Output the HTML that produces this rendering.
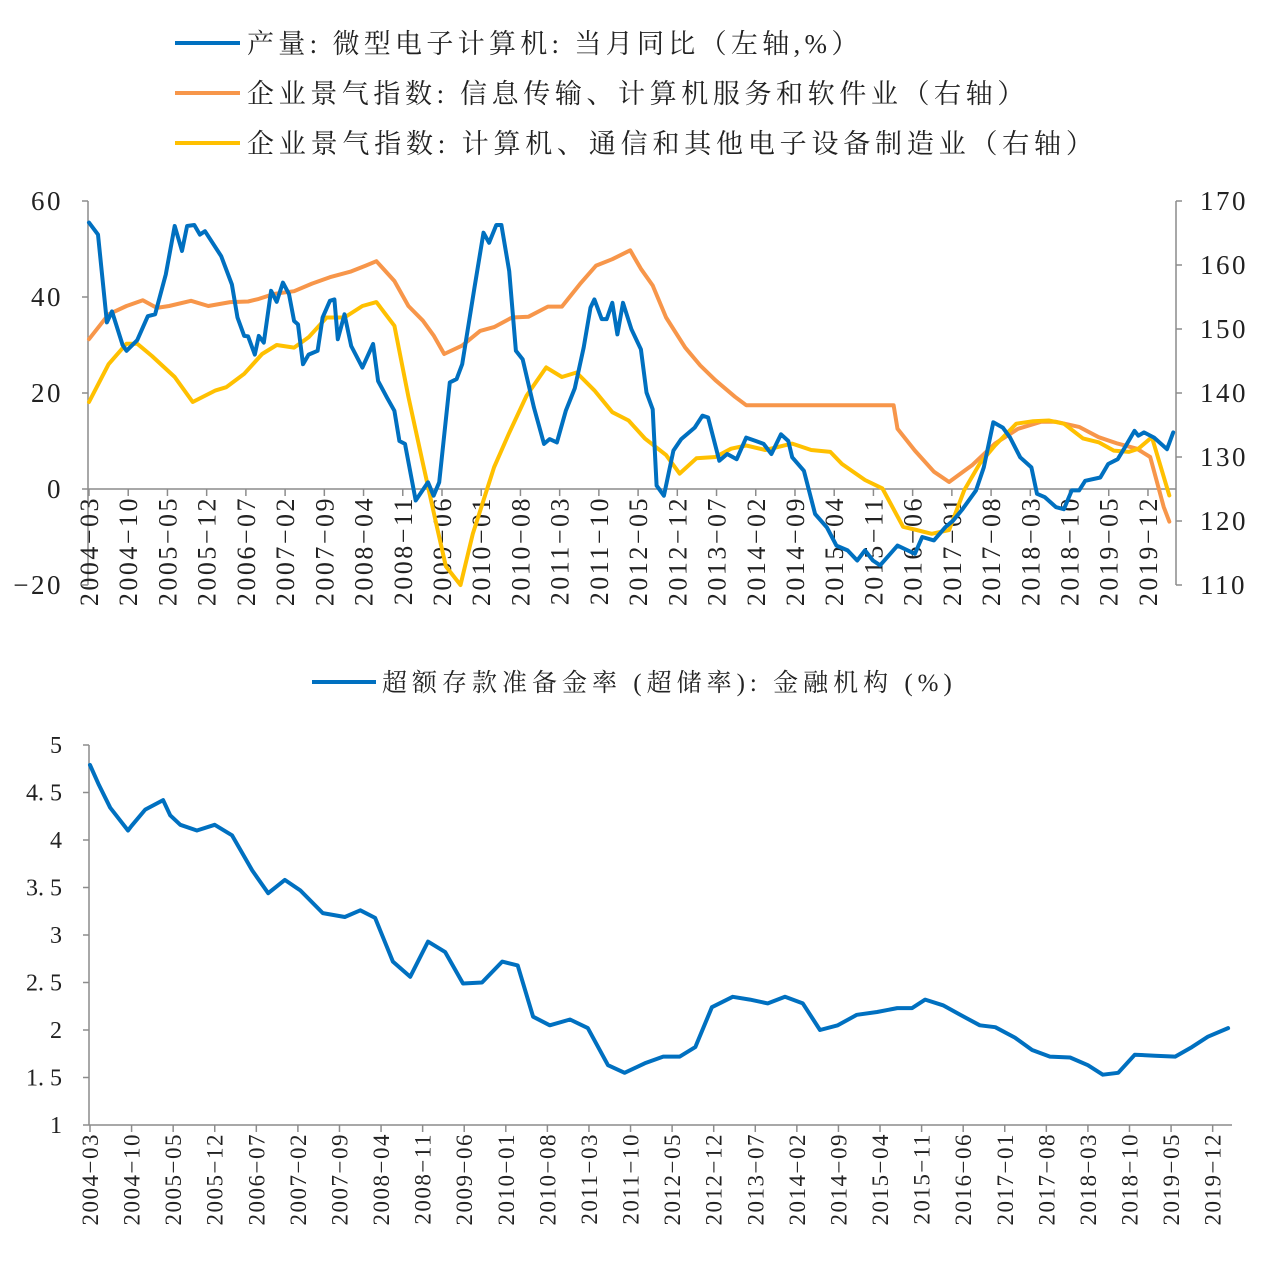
<!DOCTYPE html>
<html><head><meta charset="utf-8">
<style>
html,body{margin:0;padding:0;background:#fff;}
svg text{font-family:"Liberation Serif","Noto Serif CJK SC",serif;fill:#222;}
</style></head>
<body>
<svg id="chart" width="1263" height="1272" viewBox="0 0 1263 1272" xmlns="http://www.w3.org/2000/svg">
  <g>
    <line x1="175" y1="43" x2="240" y2="43" stroke="#0070C0" stroke-width="4"/>
    <text x="247" y="53" font-size="27" letter-spacing="4.3">产量: 微型电子计算机: 当月同比（左轴,%）</text>
    <line x1="175" y1="93" x2="240" y2="93" stroke="#F7964A" stroke-width="4"/>
    <text x="247" y="103" font-size="27" letter-spacing="4.6">企业景气指数: 信息传输、计算机服务和软件业（右轴）</text>
    <line x1="175" y1="143" x2="240" y2="143" stroke="#FFC000" stroke-width="4"/>
    <text x="247" y="153" font-size="27" letter-spacing="4.8">企业景气指数: 计算机、通信和其他电子设备制造业（右轴）</text>
  </g>
  <g id="topchart"></g>
  <g>
    <line x1="312" y1="682" x2="376" y2="682" stroke="#0070C0" stroke-width="4"/>
    <text x="382" y="691" font-size="25" letter-spacing="5">超额存款准备金率 (超储率): 金融机构 (%)</text>
  </g>
  <g id="bottomchart"></g>
</svg>
<script>
// ---- data (month index from 2004-03) ----
const xTickLabels = ["2004-03","2004-10","2005-05","2005-12","2006-07","2007-02","2007-09","2008-04","2008-11","2009-06","2010-01","2010-08","2011-03","2011-10","2012-05","2012-12","2013-07","2014-02","2014-09","2015-04","2015-11","2016-06","2017-01","2017-08","2018-03","2018-10","2019-05","2019-12"];
const leftTicks = [60,40,20,0,-20];
const rightTicks = [170,160,150,140,130,120,110];
const bottomTicks = ["5","4.5","4","3.5","3","2.5","2","1.5","1"];
const bottomTickValues = [5,4.5,4,3.5,3,2.5,2,1.5,1];

const prodMonths = [0,1.6,3.2,4.1,6,6.7,8.6,10.5,11.8,13.7,15.3,16.6,17.5,18.8,19.8,20.7,23.6,25.5,26.5,27.7,28.4,29.6,30.3,31.2,32.5,33.5,34.6,35.7,36.6,37.3,38.2,39.2,40.8,41.7,43,43.8,44.4,45.6,46.8,48.8,50.7,51.6,53.2,54.5,55.4,56.4,58.3,60.5,61.5,62.5,64.4,65.6,66.6,68.8,70.4,71.4,72.7,73.6,75,76.2,77.4,79.4,81.2,82.2,83.5,85.1,86.7,88.3,89.5,90.2,91.5,92.4,93.4,94.3,95.3,96.8,98.5,99.5,100.6,101.3,102.6,104.3,105.7,108.1,109.5,110.5,112.5,113.9,115.6,117.3,119,120.4,121.8,123.5,124.8,125.5,127.6,129.6,131.7,133.4,135.4,137.1,138.5,139.9,141.2,144.3,147.4,148.7,150.8,152.8,154.2,155.9,158.3,159.7,161.4,163.1,164.4,166.2,168.2,169.2,170.6,172.6,174,175.4,176.7,177.8,180.5,181.9,183.6,184.9,186.6,187.3,188.3,190.1,192.4,193.5];
const prodValues = [55.5,53,34.7,37,30,28.8,31,36,36.4,44.7,54.8,49.6,54.8,55,53,53.7,48.5,42.6,35.7,31.9,31.8,28,31.9,30.5,41.3,39,43,40.6,35,34.3,26,28,28.8,35.7,39.2,39.5,31.2,36.4,29.8,25.3,30.2,22.5,19,16.3,10,9.4,-2.4,1.4,-1.4,1.4,22.2,22.9,26,42,53.4,51.3,55,55,45.4,28.8,27,17,9.4,10.4,9.7,16.3,21,29.5,37.8,39.5,35.4,35.4,38.8,32.2,38.8,33.3,29.1,20.1,16.6,0.7,-1.4,8,10.4,12.8,15.3,14.9,5.9,7.3,6.2,10.7,10,9.4,7.3,11.4,10,6.6,3.8,-5.2,-8,-11.8,-12.8,-14.9,-12.8,-14.9,-15.9,-11.8,-13.5,-10,-10.7,-8,-6.6,-4.2,-0.3,4.5,13.9,12.8,10.7,6.6,4.5,-1,-1.7,-3.8,-4.2,-0.3,-0.3,1.7,2.4,5.2,6.2,8.7,12.1,11.1,11.8,10.7,8.3,11.8];

const itMonths = [0,3.5,6.7,9.6,12.1,14.3,18.2,21.3,25.2,28.4,30.3,33.1,36.6,39.8,43,46.8,49.4,51.3,54.5,57,59.6,61.5,63.4,66.6,69.8,72.3,75.5,78.4,81.9,84.4,87.6,90.5,93.4,96.6,98.5,100.6,103,106.4,109.1,111.8,115.3,117.3,143.6,144.3,147.4,150.8,153.5,157.6,161.7,165.8,169.9,172.6,176.7,180.2,183.6,187,189.4,191.8,192.8];
const itValues = [148.4,152.3,153.6,154.5,153.3,153.6,154.4,153.6,154.2,154.3,154.7,155.5,155.9,157.1,158.1,159,159.9,160.6,157.5,153.6,151.3,149,146.1,147.4,149.7,150.3,151.8,151.9,153.5,153.5,157,159.9,160.9,162.3,159.4,156.8,151.8,147.1,144.3,142,139.4,138.1,138.1,134.4,131,127.7,126.1,128.7,132.1,134.4,135.5,135.5,134.7,133.1,132.1,131.3,130,122.2,119.9];

const elMonths = [0,3.5,6.7,8.6,11.2,15.3,18.5,22.6,24.5,27.7,30.9,33.5,36.6,39.2,42.4,45.6,48.8,51.3,54.5,57,59.6,62.1,63.7,66.3,68.5,72.3,74.9,78.1,81.6,84.4,87,90.2,93.4,96.3,99.2,103,105.4,108.4,111.8,114.6,117.3,120.7,125.5,128.9,132.3,134.4,138.5,141.6,145.3,147.7,150.4,153.5,156.2,159,161.7,165.5,168.5,171.3,174,177.4,180.2,182.9,185.6,187.3,189.7,192.8];
const elValues = [138.6,144.5,147.7,147.7,145.8,142.5,138.6,140.4,140.9,143,146.1,147.5,147.1,148.7,151.8,151.8,153.6,154.2,150.5,139.4,129,119.1,112.9,110,118,128.4,133.6,139.6,144,142.5,143.2,140.4,137,135.7,132.9,130.3,127.4,129.8,130,131.3,131.8,131.1,132.1,131.1,130.8,128.9,126.4,125.1,119.1,118.6,118,118.6,124.8,129,131.8,135.2,135.6,135.7,135.2,132.9,132.3,131,130.8,131.3,133.1,124];

const resMonths = [0,1.5,3.4,6.4,7,9.3,12.3,13.5,15.2,18,21,23.9,27.3,30,32.8,35.4,39.2,42.9,45.5,48,51,53.9,56.9,59.8,62.8,66,69.4,72,74.6,77.4,80.8,83.8,87.2,90,93.4,96.5,99.3,101.9,104.7,108.2,111.1,114.1,117,120,122.9,125.9,129.1,132.5,135.9,138.4,140.6,143.6,146.5,149.8,152.4,155.7,158.6,161.6,165,168,170.5,173.1,175.9,179.3,182.7,185.5,188.2,191.6];
const resValues = [4.79,4.58,4.34,4.1,4.15,4.32,4.42,4.26,4.16,4.1,4.16,4.05,3.68,3.44,3.58,3.47,3.23,3.19,3.26,3.18,2.72,2.56,2.93,2.82,2.49,2.5,2.72,2.68,2.14,2.05,2.11,2.02,1.63,1.55,1.65,1.72,1.72,1.82,2.24,2.35,2.32,2.28,2.35,2.28,2,2.05,2.16,2.19,2.23,2.23,2.32,2.26,2.16,2.05,2.03,1.92,1.79,1.72,1.71,1.63,1.53,1.55,1.74,1.73,1.72,1.82,1.93,2.02];

const NS = "http://www.w3.org/2000/svg";
function mk(parent, tag, attrs, text){
  const e = document.createElementNS(NS, tag);
  for (const k in attrs) e.setAttribute(k, attrs[k]);
  if (text !== undefined) e.textContent = text;
  parent.appendChild(e);
  return e;
}
const AX = "#8c8c8c";

// ---------- top chart ----------
const topG = document.getElementById('topchart');
const tx = m => 89 + m * 5.603;
const tyL = v => 489 - v * 4.8;
const tyR = v => 201 + (170 - v) * 6.4;

let el;
el = mk(topG, 'line', {x1:88, y1:201, x2:88, y2:585, stroke:AX, 'stroke-width':1.5});


el = mk(topG, 'line', {x1:1176, y1:201, x2:1176, y2:585, stroke:AX, 'stroke-width':1.5});


el = mk(topG, 'line', {x1:88, y1:489, x2:1176, y2:489, stroke:AX, 'stroke-width':1.5});



leftTicks.forEach(v => {
  mk(topG, 'line', {x1:82, y1:tyL(v), x2:88, y2:tyL(v), stroke:AX, 'stroke-width':1.5});
  const t = mk(topG, 'text', {x:63, y:tyL(v)+9, 'font-size':27, 'text-anchor':'end', 'letter-spacing':2.5}, v === -20 ? '−20' : String(v));
  
  
});
rightTicks.forEach(v => {
  mk(topG, 'line', {x1:1176, y1:tyR(v), x2:1182, y2:tyR(v), stroke:AX, 'stroke-width':1.5});
  const t = mk(topG, 'text', {x:1200, y:tyR(v)+9, 'font-size':27, 'letter-spacing':2.5}, String(v));
  
  
});
xTickLabels.forEach((lab, i) => {
  const x = tx(i * 7);
  mk(topG, 'line', {x1:x, y1:489, x2:x, y2:496, stroke:AX, 'stroke-width':1.5});
  const t = mk(topG, 'text', {x:0, y:0, 'font-size':26, 'text-anchor':'end', 'letter-spacing':2.5, transform:`translate(${x+9},496) rotate(-90)`}, lab.replace('-', '−'));
  
  
});

function series(parent, ms, vs, fx, fy, color, name){
  const d = ms.map((m, i) => (i ? 'L' : 'M') + fx(m).toFixed(1) + ' ' + fy(vs[i]).toFixed(1)).join(' ');
  const p = mk(parent, 'path', {d:d, fill:'none', stroke:color, 'stroke-width':4, 'stroke-linejoin':'round', 'stroke-linecap':'round'});
  
  
}
series(topG, itMonths, itValues, tx, tyR, '#F7964A', 'it-services-index-line');
series(topG, elMonths, elValues, tx, tyR, '#FFC000', 'electronics-index-line');
series(topG, prodMonths, prodValues, tx, tyL, '#0070C0', 'computer-production-yoy-line');

// ---------- bottom chart ----------
const botG = document.getElementById('bottomchart');
const bx = m => 90 + m * 5.94;
const by = v => 745 + (5 - v) * 95;
el = mk(botG, 'line', {x1:89, y1:745, x2:89, y2:1125, stroke:AX, 'stroke-width':1.5});


el = mk(botG, 'line', {x1:89, y1:1125, x2:1232, y2:1125, stroke:AX, 'stroke-width':1.5});


bottomTickValues.forEach((v, i) => {
  mk(botG, 'line', {x1:83, y1:by(v), x2:89, y2:by(v), stroke:AX, 'stroke-width':1.5});
  const t = mk(botG, 'text', {x:62, y:by(v)+8, 'font-size':24, 'text-anchor':'end'}, bottomTicks[i].replace('.', '. '));
  
  
});
xTickLabels.forEach((lab, i) => {
  const x = bx(i * 7);
  mk(botG, 'line', {x1:x, y1:1125, x2:x, y2:1132, stroke:AX, 'stroke-width':1.5});
  const t = mk(botG, 'text', {x:0, y:0, 'font-size':23, 'text-anchor':'end', 'letter-spacing':1.5, transform:`translate(${x+8},1133) rotate(-90)`}, lab.replace('-', '−'));
  
  
});
series(botG, resMonths, resValues, bx, by, '#0070C0', 'excess-reserve-ratio-line');
</script>
</body></html>
